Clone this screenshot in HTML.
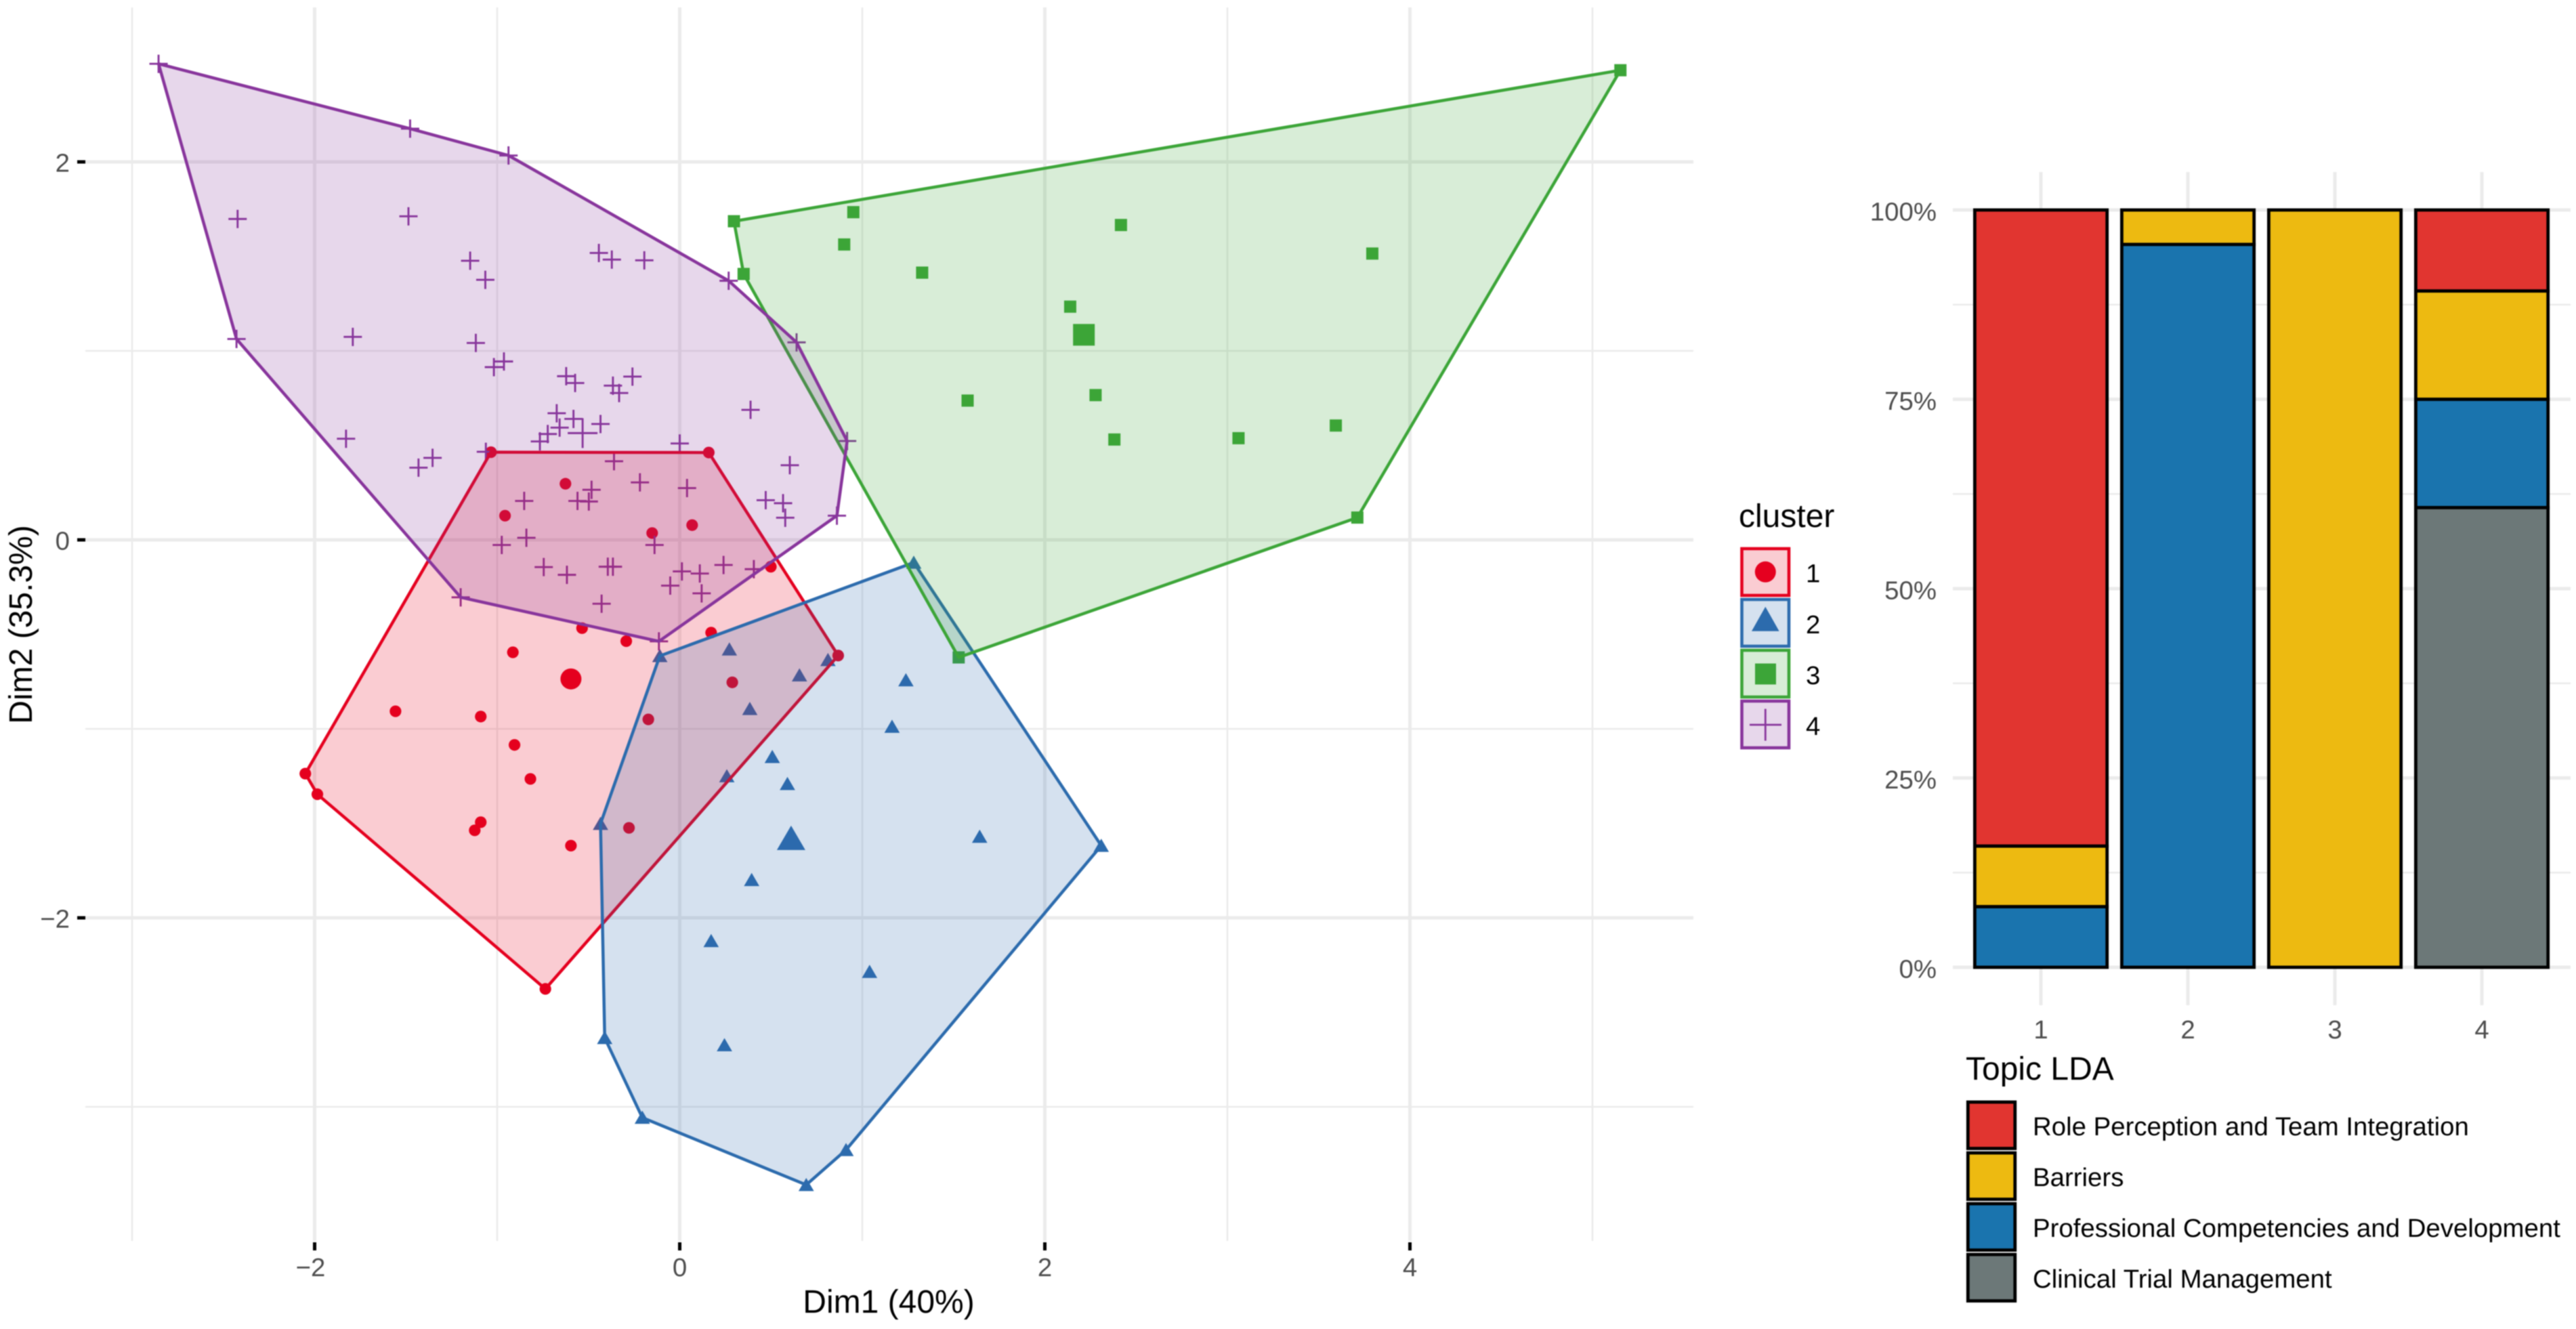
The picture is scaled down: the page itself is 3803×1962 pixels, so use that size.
<!DOCTYPE html>
<html lang="en">
<head>
<meta charset="utf-8">
<title>Cluster map and topic composition</title>
<style>
html,body{margin:0;padding:0;background:#fff;width:3803px;height:1962px;overflow:hidden}
svg{display:block;font-family:"Liberation Sans",Arial,sans-serif;filter:blur(0.7px)}
</style>
</head>
<body>
<svg id="figure" xmlns="http://www.w3.org/2000/svg" width="3803" height="1962" viewBox="0 0 3803 1962">
  <rect x="0" y="0" width="3803" height="1962" fill="#ffffff"/>
  <g id="gridLayer"></g>
  <g id="pointLayer"></g>
  <g id="hullLayer"></g>
  <g id="axisLayer"></g>
  <text x="1312" y="1938" font-size="48" text-anchor="middle" fill="#000">Dim1 (40%)</text>
  <text transform="translate(47 922) rotate(-90)" font-size="48" text-anchor="middle" fill="#000">Dim2 (35.3%)</text>

  <g>
    <text x="2567" y="778" font-size="48" fill="#000">cluster</text>
    <rect x="2571.5" y="810" width="69.5" height="69" fill="#E5001F" fill-opacity="0.2" stroke="#E5001F" stroke-width="4.6"/>
    <circle cx="2606.3" cy="844.3" r="15.5" fill="#E5001F"/>
    <text x="2666" y="859.5" font-size="38.4" fill="#000">1</text>
    <rect x="2571.5" y="885" width="69.5" height="69" fill="#2C6BAD" fill-opacity="0.2" stroke="#2C6BAD" stroke-width="4.6"/>
    <polygon points="2606.3,895.7 2586,931.7 2626.6,931.7" fill="#2C6BAD"/>
    <text x="2666" y="935" font-size="38.4" fill="#000">2</text>
    <rect x="2571.5" y="960" width="69.5" height="69" fill="#3CA538" fill-opacity="0.2" stroke="#3CA538" stroke-width="4.6"/>
    <rect x="2591" y="979.5" width="31" height="31" fill="#3CA538"/>
    <text x="2666" y="1010" font-size="38.4" fill="#000">3</text>
    <rect x="2571.5" y="1035" width="69.5" height="69" fill="#88359C" fill-opacity="0.2" stroke="#88359C" stroke-width="4.6"/>
    <path d="M2583,1070H2630M2606.3,1046.5V1093.5" fill="none" stroke="#88359C" stroke-width="2.8"/>
    <text x="2666" y="1085" font-size="38.4" fill="#000">4</text>
  </g>

  <g id="barGridLayer"></g>
  <g id="barLayer"></g>
  <g id="barAxisLayer"></g>

  <g>
    <text x="2902" y="1594" font-size="48" fill="#000">Topic LDA</text>
    <rect x="2905.3" y="1627" width="69.5" height="68.5" fill="#E13530" stroke="#000" stroke-width="4.8"/>
    <text x="3001" y="1676" font-size="38.4" fill="#000">Role Perception and Team Integration</text>
    <rect x="2905.3" y="1702" width="69.5" height="68.5" fill="#EDBA11" stroke="#000" stroke-width="4.8"/>
    <text x="3001" y="1751" font-size="38.4" fill="#000">Barriers</text>
    <rect x="2905.3" y="1777" width="69.5" height="68.5" fill="#1A74AE" stroke="#000" stroke-width="4.8"/>
    <text x="3001" y="1826" font-size="38.4" fill="#000">Professional Competencies and Development</text>
    <rect x="2905.3" y="1852" width="69.5" height="68.5" fill="#6C7878" stroke="#000" stroke-width="4.8"/>
    <text x="3001" y="1901" font-size="38.4" fill="#000">Clinical Trial Management</text>
  </g>
</svg>

<script>
/* ---- cluster map data (Dim1 / Dim2 coordinates) ---- */
const cluster1Dim1 = [-1.034,0.159,-0.626,-0.957,0.068,-0.151,0.499,-0.535,-0.293,0.172,-0.914,0.868,0.288,-0.172,-1.557,-1.090,-0.905,-0.818,-2.051,-1.985,-1.090,-1.123,-0.596,-0.278,-0.736];
const cluster1Dim2 = [0.464,0.462,0.297,0.128,0.078,0.036,-0.142,-0.467,-0.536,-0.491,-0.595,-0.612,-0.754,-0.950,-0.907,-0.935,-1.085,-1.265,-1.237,-1.346,-1.494,-1.537,-1.618,-1.524,-2.376];
const cluster2Dim1 = [-0.109,0.272,0.812,0.656,1.239,0.384,1.163,0.507,0.258,0.590,-0.434,1.643,2.309,0.394,0.172,1.040,-0.411,0.245,-0.205,0.911,0.693,1.282];
const cluster2Dim2 = [-0.614,-0.579,-0.635,-0.716,-0.742,-0.894,-0.988,-1.148,-1.250,-1.291,-1.502,-1.570,-1.618,-1.799,-2.122,-2.285,-2.635,-2.673,-3.057,-3.228,-3.413,-0.120];
const cluster3Dim1 = [0.297,0.350,0.951,0.901,1.328,2.417,3.794,2.139,1.577,2.278,2.381,3.061,3.594,3.712,5.153,1.528];
const cluster3Dim2 = [1.686,1.407,1.734,1.563,1.414,1.666,1.515,1.234,0.737,0.766,0.531,0.538,0.605,0.118,2.485,-0.622];
const cluster4Dim1 = [-2.855,-1.477,-0.938,-2.422,-1.486,-1.148,-1.065,-0.443,-0.372,-0.194,0.268,0.640,-2.428,-1.791,-1.117,-0.963,-1.018,-0.622,-0.573,-0.259,-0.366,-0.332,0.388,-0.674,-0.582,-0.434,-0.658,-0.723,-0.766,-1.828,-1.354,-1.431,-1.062,0.000,0.917,-0.360,0.603,-0.218,0.040,-0.483,-0.852,-0.560,-0.498,0.471,0.566,0.578,0.861,-0.975,-0.840,-0.138,-0.745,-0.618,-0.394,-0.366,0.012,0.110,0.240,0.406,-0.052,0.120,-0.428,-1.200,-0.114];
const cluster4Dim2 = [2.519,2.176,2.034,1.698,1.712,1.477,1.376,1.518,1.483,1.479,1.371,1.045,1.063,1.074,1.042,0.944,0.914,0.866,0.830,0.864,0.816,0.777,0.688,0.670,0.640,0.613,0.594,0.560,0.521,0.535,0.434,0.382,0.466,0.510,0.523,0.416,0.395,0.304,0.274,0.265,0.206,0.206,0.203,0.210,0.194,0.117,0.128,-0.027,0.011,-0.027,-0.144,-0.185,-0.142,-0.142,-0.167,-0.178,-0.133,-0.155,-0.242,-0.283,-0.338,-0.304,-0.537];
const centroidDim1 = [-0.596,0.610,2.214,-0.532];
const centroidDim2 = [-0.736,-1.580,1.085,0.565];
const xMajorTicks = [-2,0,2,4];
const xMinorTicks = [-3,-1,1,3,5];
const yMajorTicks = [-2,0,2];
const yMinorTicks = [-3,-1,1];

/* ---- stacked bar data (percent of each cluster, top of stack first) ---- */
const barCategories = ['1','2','3','4'];
const roleShare = [84,0,0,10.7];
const barriersShare = [8,4.55,100,14.3];
const professionalShare = [8,95.45,0,14.3];
const clinicalShare = [0,0,0,60.7];
const percentMajorTicks = [0,25,50,75,100];
const percentMinorTicks = [12.5,37.5,62.5,87.5];

/* ---- axis functions ---- */
const scaleDim1 = v => 1003.5 + 269.5 * v;
const scaleDim2 = v => 797 - 279 * v;
const scaleBarX = i => 3013 + 217 * i;
const scalePercent = v => 1428 - 11.18 * v;

const SVG_NS = 'http://www.w3.org/2000/svg';
function make(parent, tag, attrs) {
  const el = document.createElementNS(SVG_NS, tag);
  for (const k in attrs) el.setAttribute(k, attrs[k]);
  parent.appendChild(el);
  return el;
}
function convexHull(xs, ys) {
  const pts = xs.map((x, i) => [x, ys[i]]).sort((a, b) => a[0] - b[0] || a[1] - b[1]);
  const cross = (o, a, b) => (a[0]-o[0])*(b[1]-o[1]) - (a[1]-o[1])*(b[0]-o[0]);
  const lower = [], upper = [];
  for (const p of pts) {
    while (lower.length > 1 && cross(lower[lower.length-2], lower[lower.length-1], p) <= 0) lower.pop();
    lower.push(p);
  }
  for (const p of pts.slice().reverse()) {
    while (upper.length > 1 && cross(upper[upper.length-2], upper[upper.length-1], p) <= 0) upper.pop();
    upper.push(p);
  }
  return lower.slice(0, -1).concat(upper.slice(0, -1));
}

const GRID = '#ebebeb';
const PANEL_LEFT = 126, PANEL_RIGHT = 2500, PANEL_TOP = 11, PANEL_BOTTOM = 1832;
const gridLayer = document.getElementById('gridLayer');
const pointLayer = document.getElementById('pointLayer');
const hullLayer = document.getElementById('hullLayer');
const axisLayer = document.getElementById('axisLayer');

/* gridlines */
yMinorTicks.forEach(v => {
  const el = make(gridLayer, 'line', {x1: PANEL_LEFT, x2: PANEL_RIGHT, y1: scaleDim2(v), y2: scaleDim2(v), stroke: GRID, 'stroke-width': 2.6});
  
  
});
xMinorTicks.forEach(v => {
  const el = make(gridLayer, 'line', {x1: scaleDim1(v), x2: scaleDim1(v), y1: PANEL_TOP, y2: PANEL_BOTTOM, stroke: GRID, 'stroke-width': 2.6});
  
  
});
yMajorTicks.forEach(v => {
  const el = make(gridLayer, 'line', {x1: PANEL_LEFT, x2: PANEL_RIGHT, y1: scaleDim2(v), y2: scaleDim2(v), stroke: GRID, 'stroke-width': 5});
  
  
});
xMajorTicks.forEach(v => {
  const el = make(gridLayer, 'line', {x1: scaleDim1(v), x2: scaleDim1(v), y1: PANEL_TOP, y2: PANEL_BOTTOM, stroke: GRID, 'stroke-width': 5});
  
  
});

/* marker drawing */
const COLORS = ['#E5001F', '#2C6BAD', '#3CA538', '#88359C'];
function drawMarker(kind, x, y, big) {
  let el;
  const color = COLORS[kind];
  if (kind === 0) {
    el = make(pointLayer, 'circle', {cx: x, cy: y, r: big ? 15.5 : 8.6, fill: color});
  } else if (kind === 1) {
    const k = big ? 2 : 1.08;
    el = make(pointLayer, 'polygon', {points: `${x},${y-9.5*k} ${x-10.5*k},${y+8.5*k} ${x+10.5*k},${y+8.5*k}`, fill: color});
  } else if (kind === 2) {
    const s = big ? 32 : 18;
    el = make(pointLayer, 'rect', {x: x - s/2, y: y - s/2, width: s, height: s, fill: color});
  } else {
    const h = big ? 22 : 13.5;
    el = make(pointLayer, 'path', {d: `M${x-h},${y}H${x+h}M${x},${y-h}V${y+h}`, fill: 'none', stroke: color, 'stroke-width': 2.9});
  }
  return el;
}

/* points */
cluster1Dim1.forEach((v, i) => {
  const el = drawMarker(0, scaleDim1(v), scaleDim2(cluster1Dim2[i]), false);
  
  
});
cluster2Dim1.forEach((v, i) => {
  const el = drawMarker(1, scaleDim1(v), scaleDim2(cluster2Dim2[i]), false);
  
  
});
cluster3Dim1.forEach((v, i) => {
  const el = drawMarker(2, scaleDim1(v), scaleDim2(cluster3Dim2[i]), false);
  
  
});
cluster4Dim1.forEach((v, i) => {
  const el = drawMarker(3, scaleDim1(v), scaleDim2(cluster4Dim2[i]), false);
  
  
});
centroidDim1.forEach((v, i) => {
  const el = drawMarker(i, scaleDim1(v), scaleDim2(centroidDim2[i]), true);
  
  
});

/* hulls */
[[cluster1Dim1, cluster1Dim2], [cluster2Dim1, cluster2Dim2], [cluster3Dim1, cluster3Dim2], [cluster4Dim1, cluster4Dim2]].forEach((pair, i) => {
  const hull = convexHull(pair[0], pair[1]);
  const el = make(hullLayer, 'polygon', {
    points: hull.map(p => scaleDim1(p[0]) + ',' + scaleDim2(p[1])).join(' '),
    fill: COLORS[i], 'fill-opacity': 0.2, stroke: COLORS[i], 'stroke-width': 4.5, 'stroke-linejoin': 'round'
  });
  
  
});

/* left axes */
const fmt = v => (v < 0 ? '\u2212' + Math.abs(v) : String(v));
xMajorTicks.forEach(v => {
  const tick = make(axisLayer, 'line', {x1: scaleDim1(v), x2: scaleDim1(v), y1: 1834, y2: 1846, stroke: '#000', 'stroke-width': 5});
  
  
  const label = make(axisLayer, 'text', {x: scaleDim1(v) - (v < 0 ? 6 : 0), y: 1884, 'font-size': 38.4, 'text-anchor': 'middle', fill: '#4d4d4d'});
  label.textContent = fmt(v);
  
  
});
yMajorTicks.forEach(v => {
  const tick = make(axisLayer, 'line', {x1: 114, x2: 126, y1: scaleDim2(v), y2: scaleDim2(v), stroke: '#000', 'stroke-width': 5});
  
  
  const label = make(axisLayer, 'text', {x: 103, y: scaleDim2(v) + 14.5, 'font-size': 38.4, 'text-anchor': 'end', fill: '#4d4d4d'});
  label.textContent = fmt(v);
  
  
});

/* ---- stacked bar chart ---- */
const barGridLayer = document.getElementById('barGridLayer');
const barLayer = document.getElementById('barLayer');
const barAxisLayer = document.getElementById('barAxisLayer');
const BAR_LEFT = 2883, BAR_RIGHT = 3795, BAR_TOP = 254, BAR_BOTTOM = 1484;

percentMinorTicks.forEach(v => {
  const el = make(barGridLayer, 'line', {x1: BAR_LEFT, x2: BAR_RIGHT, y1: scalePercent(v), y2: scalePercent(v), stroke: GRID, 'stroke-width': 2.6});
  
  
});
percentMajorTicks.forEach(v => {
  const el = make(barGridLayer, 'line', {x1: BAR_LEFT, x2: BAR_RIGHT, y1: scalePercent(v), y2: scalePercent(v), stroke: GRID, 'stroke-width': 5});
  
  
  const label = make(barAxisLayer, 'text', {x: 2859, y: scalePercent(v) + 15.5, 'font-size': 38.4, 'text-anchor': 'end', fill: '#4d4d4d'});
  label.textContent = v + '%';
  
  
});
barCategories.forEach((c, i) => {
  const el = make(barGridLayer, 'line', {x1: scaleBarX(i), x2: scaleBarX(i), y1: BAR_TOP, y2: BAR_BOTTOM, stroke: GRID, 'stroke-width': 5});
  
  
  const label = make(barAxisLayer, 'text', {x: scaleBarX(i), y: 1533, 'font-size': 38.4, 'text-anchor': 'middle', fill: '#4d4d4d'});
  label.textContent = c;
  
  
});

const topicFills = ['#E13530', '#EDBA11', '#1A74AE', '#6C7878'];
barCategories.forEach((c, i) => {
  let top = 100;
  [roleShare, barriersShare, professionalShare, clinicalShare].forEach((series, s) => {
    const value = series[i];
    if (value <= 0) return;
    const yTop = scalePercent(top);
    const yBottom = scalePercent(Math.max(top - value, 0));
    const el = make(barLayer, 'rect', {x: scaleBarX(i) - 97.6, y: yTop, width: 195.3, height: yBottom - yTop, fill: topicFills[s], stroke: '#000', 'stroke-width': 4.8});
    
    
    top -= value;
  });
});
</script>
</body>
</html>
